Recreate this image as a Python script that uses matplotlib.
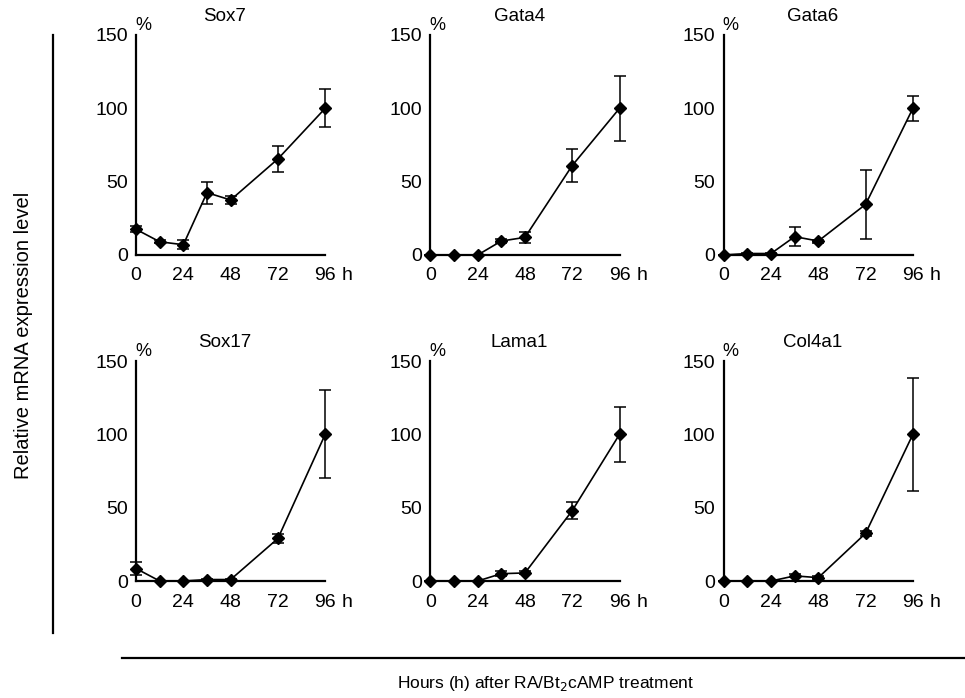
import matplotlib
matplotlib.use("Agg")
import matplotlib.pyplot as plt
from matplotlib.lines import Line2D

plt.rcParams['font.family'] = ['Liberation Sans', 'DejaVu Sans']

# time points (h) and values (% of 96 h level)
hours = [0, 12, 24, 36, 48, 72, 96]
xticks = [0, 24, 48, 72, 96]
yticks = [0, 50, 100, 150]

genes = ['Sox7', 'Gata4', 'Gata6', 'Sox17', 'Lama1', 'Col4a1']

sox7 = [17.5, 9, 7, 42.5, 37.5, 65.5, 100]
sox7_err = [2, 1, 3, 7.5, 3, 9, 13]
gata4 = [0, 0, 0, 9.5, 12, 61, 100]
gata4_err = [0, 0, 0, 1.5, 3.5, 11, 22]
gata6 = [0, 1, 1, 12.5, 9.5, 34.5, 100]
gata6_err = [0, 0.5, 0.5, 6.5, 1, 23.5, 8.5]
sox17 = [8.5, 0, 0, 1, 1, 29, 100]
sox17_err = [4.5, 0, 0, 0.5, 0.5, 3, 30]
lama1 = [0, 0, 0, 5, 5.5, 48, 100]
lama1_err = [0, 0, 0, 1.5, 1, 6, 18.7]
col4a1 = [0, 0, 0, 3.5, 2.3, 32.5, 100]
col4a1_err = [0, 0, 0, 1, 1, 1.5, 38.5]

values = [sox7, gata4, gata6, sox17, lama1, col4a1]
errors = [sox7_err, gata4_err, gata6_err, sox17_err, lama1_err, col4a1_err]

fig = plt.figure(figsize=(9.65, 6.98), dpi=100)

lefts = [0.141, 0.446, 0.750]
bottoms = [0.6347, 0.1676]
w, h = 0.196, 0.3152

for i in range(6):
    row, col = i // 3, i % 3
    ax = fig.add_axes([lefts[col], bottoms[row], w, h])
    ax.errorbar(hours, values[i], yerr=errors[i], color='black', lw=1.2,
                marker='D', markersize=6, capsize=4, elinewidth=1.1,
                capthick=1.1, clip_on=False, zorder=3)
    ax.set_xlim(0, 96)
    ax.set_ylim(0, 150)
    ax.set_xticks(xticks)
    ax.set_yticks(yticks)
    ax.tick_params(length=0, labelsize=14)
    ax.tick_params(axis='x', pad=9)
    ax.tick_params(axis='y', pad=6)
    ax.spines['top'].set_visible(False)
    ax.spines['right'].set_visible(False)
    ax.spines['left'].set_linewidth(1.6)
    ax.spines['bottom'].set_linewidth(1.6)
    ax.patch.set_alpha(0)
    # unit labels
    ax.annotate('h', xy=(96, 0), xycoords='data', xytext=(12, -9),
                textcoords='offset points', ha='left', va='top', fontsize=14)
    ax.annotate('%', xy=(0, 150), xycoords='data', xytext=(5, 1),
                textcoords='offset points', ha='center', va='bottom', fontsize=13)
    ax.text(0.47, 1.045, genes[i], transform=ax.transAxes, ha='center',
            va='bottom', fontsize=13.5)

# bracket lines and shared labels
fig.add_artist(Line2D([0.055, 0.055], [0.95, 0.093], color='black', lw=1.6,
                      transform=fig.transFigure))
fig.add_artist(Line2D([0.126, 1.0], [0.0573, 0.0573], color='black', lw=1.6,
                      transform=fig.transFigure))
fig.text(0.024, 0.52, 'Relative mRNA expression level', rotation=90,
         ha='center', va='center', fontsize=14.5)
fig.text(0.565, 0.021, 'Hours (h) after RA/Bt$_2$cAMP treatment',
         ha='center', va='center', fontsize=12.5)

fig.savefig('out.png', dpi=100)
